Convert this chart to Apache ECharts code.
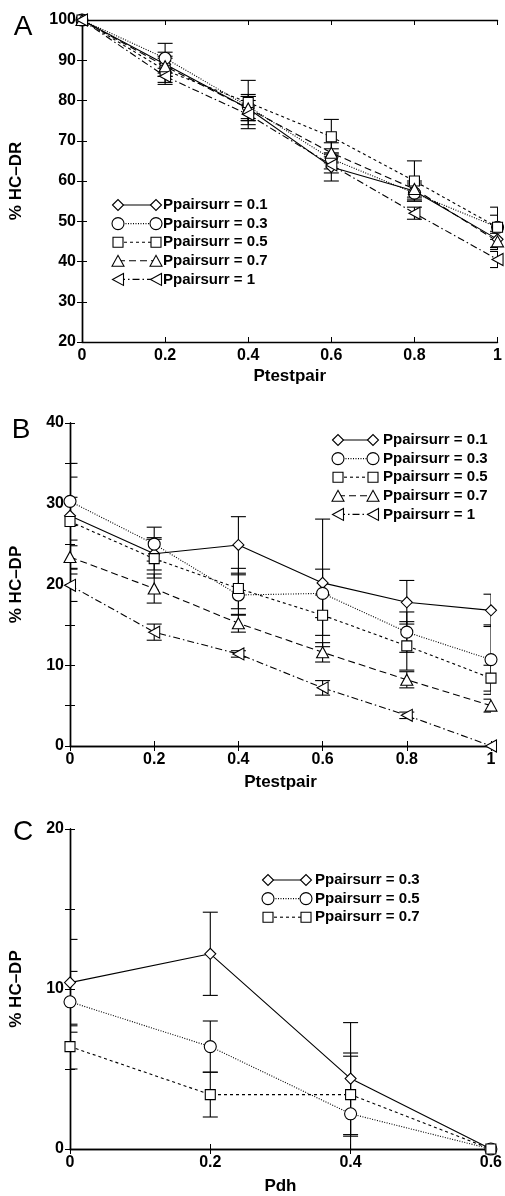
<!DOCTYPE html>
<html><head><meta charset="utf-8">
<script src="https://cdn.jsdelivr.net/npm/echarts@6/dist/echarts.min.js"></script>
<style>html,body{margin:0;padding:0;background:#fff}#c{width:505px;height:1196px}</style>
</head><body><div id="c"></div>
<script>
// ---------- DATA ----------
const xTestpair = [0, 0.2, 0.4, 0.6, 0.8, 1];
const xPdh = [0, 0.2, 0.4, 0.6];
const namesAB = ['Ppairsurr = 0.1', 'Ppairsurr = 0.3', 'Ppairsurr = 0.5', 'Ppairsurr = 0.7', 'Ppairsurr = 1'];
const namesC = ['Ppairsurr = 0.3', 'Ppairsurr = 0.5', 'Ppairsurr = 0.7'];

// Panel A: % HC-DR
const A_p01 = [100, 89, 78, 63.5, 57.5, 45.5];
const A_p01_err = [0, 3, 3, 3.5, 2, 2];
const A_p03 = [100, 90.5, 78.5, 65.5, 57, 48.5];
const A_p03_err = [0, 3.7, 3, 2.5, 2, 5];
const A_p05 = [100, 87.5, 79.5, 71, 60, 48.5];
const A_p05_err = [0, 3, 5.5, 4.3, 5, 3];
const A_p07 = [100, 88.5, 78, 67, 58, 45];
const A_p07_err = [0, 2.5, 3, 2.5, 2, 2];
const A_p1 = [100, 86, 76.5, 64, 52, 40.5];
const A_p1_err = [0, 2, 3.5, 2, 1.5, 2];

// Panel B: % HC-DP
const B_p01 = [28.5, 23.8, 24.9, 20.2, 17.8, 16.8];
const B_p01_err = [6.5, 2, 3.5, 7.9, 2.7, 2];
const B_p03 = [30.3, 25.0, 18.7, 18.9, 14.1, 10.7];
const B_p03_err = [3, 2.1, 2.5, 3, 2.5, 4.3];
const B_p05 = [27.8, 23.2, 19.5, 16.2, 12.4, 8.4];
const B_p05_err = [3, 2.4, 2.5, 2.5, 3, 1.6];
const B_p07 = [23.4, 19.5, 15.2, 11.6, 8.2, 5.0];
const B_p07_err = [2.1, 1.8, 1.1, 1.2, 1, 0.8];
const B_p1 = [19.9, 14.1, 11.4, 7.2, 3.8, 0];
const B_p1_err = [2, 1, 0.4, 0.9, 0.4, 0];

// Panel C: % HC-DP vs Pdh
const C_p03 = [10.4, 12.2, 4.4, 0];
const C_p03_err = [2.7, 2.6, 3.5, 0];
const C_p05 = [9.2, 6.4, 2.2, 0];
const C_p05_err = [1.9, 1.6, 3.6, 0];
const C_p07 = [6.4, 3.4, 3.4, 0];
const C_p07_err = [1.4, 1.4, 2.6, 0];

// ---------- STYLE ----------
const FONT = '"Liberation Sans", Arial, Helvetica, sans-serif';
const STY = [
  {symbol: 'path://M0,5L5,0L10,5L5,10Z', size: 11, dash: 'solid', kind: 'diamond'},
  {symbol: 'circle', size: 12, dash: [1, 1.5], kind: 'circle'},
  {symbol: 'rect', size: 10, dash: [3, 3], kind: 'rect'},
  {symbol: 'triangle', size: [12, 11], dash: [7, 4], kind: 'tri'},
  {symbol: 'path://M0,5L10,0L10,10Z', size: [11, 12], dash: [7, 3, 1.5, 3], kind: 'ltri'}
];

const chart = echarts.init(document.getElementById('c'), null, {renderer: 'canvas'});

const grids = [
  {left: 78, right: 6, top: 20, height: 322},
  {left: 70, right: 14, top: 423, height: 323},
  {left: 70, right: 14, top: 829, height: 322}
];

const lblStyle = {color: '#000', fontWeight: 'bold', fontSize: 16, fontFamily: FONT};
const nameStyle = {color: '#000', fontWeight: 'bold', fontSize: 17, fontFamily: FONT};
const axLine = {show: true, lineStyle: {color: '#000', width: 1.4}};
const tick = {show: true, inside: true, length: 5, lineStyle: {color: '#000', width: 1}};

function xAxes(gi, max, name, gap) {
  return [
    {type: 'value', gridIndex: gi, min: 0, max: max, interval: 0.2, position: 'bottom',
     axisLine: axLine, axisTick: tick, splitLine: {show: false},
     axisLabel: Object.assign({margin: 6}, lblStyle),
     name: name, nameLocation: 'middle', nameGap: gap, nameTextStyle: nameStyle},
    {type: 'value', gridIndex: gi, min: 0, max: max, interval: 0.2, position: 'top',
     axisLine: axLine, axisTick: tick, splitLine: {show: false}, axisLabel: {show: false}}
  ];
}
function yAxes(gi, min, max, interval, labelEvery, name, gap) {
  return [
    {type: 'value', gridIndex: gi, min: min, max: max, interval: interval, position: 'left',
     axisLine: axLine, axisTick: tick, splitLine: {show: false},
     axisLabel: Object.assign({margin: 6, formatter: v => (Math.abs(v % labelEvery) < 1e-9 ? String(v) : '')}, lblStyle),
     name: name, nameLocation: 'middle', nameGap: gap, nameRotate: 90, nameTextStyle: nameStyle},
    {type: 'value', gridIndex: gi, min: min, max: max, interval: interval, position: 'right',
     axisLine: axLine, axisTick: tick, splitLine: {show: false}, axisLabel: {show: false}}
  ];
}

const xAxis = [].concat(xAxes(0, 1, 'Ptestpair', 26), xAxes(1, 1, 'Ptestpair', 28), xAxes(2, 0.6, 'Pdh', 29));
const yAxis = [].concat(yAxes(0, 20, 100, 10, 10, '% HC\u2013DR', 57), yAxes(1, 0, 40, 5, 10, '% HC\u2013DP', 45), yAxes(2, 0, 20, 5, 10, '% HC\u2013DP', 45));

function errRender(params, api) {
  const x = api.value(0), lo = api.value(1), hi = api.value(2);
  if (hi - lo < 1e-9) return null;
  const pLo = api.coord([x, lo]), pHi = api.coord([x, hi]);
  const w = 7.5;
  const st = {stroke: '#000', lineWidth: 1.1};
  return {type: 'group', children: [
    {type: 'line', shape: {x1: pHi[0], y1: pHi[1], x2: pLo[0], y2: pLo[1]}, style: st},
    {type: 'line', shape: {x1: pHi[0] - w, y1: pHi[1], x2: pHi[0] + w, y2: pHi[1]}, style: st},
    {type: 'line', shape: {x1: pLo[0] - w, y1: pLo[1], x2: pLo[0] + w, y2: pLo[1]}, style: st}
  ]};
}

const series = [];
function addPanel(gi, xs, vals, errs, names) {
  vals.forEach((v, i) => {
    const s = STY[i];
    series.push({
      type: 'custom', name: names[i] + ' err', xAxisIndex: gi * 2, yAxisIndex: gi * 2, z: 1,
      clip: true, renderItem: errRender,
      data: xs.map((x, k) => [x, v[k] - errs[i][k], v[k] + errs[i][k]])
    });
    series.push({
      type: 'line', name: names[i], xAxisIndex: gi * 2, yAxisIndex: gi * 2, z: 3,
      data: xs.map((x, k) => [x, v[k]]),
      symbol: s.symbol, symbolSize: s.size, showAllSymbol: true,
      lineStyle: {color: '#000', width: 1.1, type: s.dash},
      itemStyle: {color: '#fff', borderColor: '#000', borderWidth: 1.1},
      emphasis: {disabled: true}, animation: false
    });
  });
}
addPanel(0, xTestpair, [A_p01, A_p03, A_p05, A_p07, A_p1], [A_p01_err, A_p03_err, A_p05_err, A_p07_err, A_p1_err], namesAB);
addPanel(1, xTestpair, [B_p01, B_p03, B_p05, B_p07, B_p1], [B_p01_err, B_p03_err, B_p05_err, B_p07_err, B_p1_err], namesAB);
addPanel(2, xPdh, [C_p03, C_p05, C_p07], [C_p03_err, C_p05_err, C_p07_err], namesC);

// ---------- custom legends ----------
function markerShape(kind, cx, cy) {
  const st = {fill: '#fff', stroke: '#000', lineWidth: 1.1};
  switch (kind) {
    case 'diamond': return {type: 'polygon', shape: {points: [[cx - 5.5, cy], [cx, cy - 5.5], [cx + 5.5, cy], [cx, cy + 5.5]]}, style: st, z: 10};
    case 'circle': return {type: 'circle', shape: {cx: cx, cy: cy, r: 6}, style: st, z: 10};
    case 'rect': return {type: 'rect', shape: {x: cx - 5, y: cy - 5, width: 10, height: 10}, style: st, z: 10};
    case 'tri': return {type: 'polygon', shape: {points: [[cx - 6, cy + 5.5], [cx, cy - 5.5], [cx + 6, cy + 5.5]]}, style: st, z: 10};
    default: return {type: 'polygon', shape: {points: [[cx - 5.5, cy], [cx + 5.5, cy - 6], [cx + 5.5, cy + 6]]}, style: st, z: 10};
  }
}
const graphic = [];
function legend(names, x1, x2, tx, y0, dy) {
  names.forEach((n, i) => {
    const y = y0 + i * dy, s = STY[i];
    graphic.push({type: 'line', shape: {x1: x1, y1: y, x2: x2, y2: y}, style: {stroke: '#000', lineWidth: 1.1, lineDash: s.dash === 'solid' ? null : s.dash}, z: 9});
    graphic.push(markerShape(s.kind, x1, y));
    graphic.push(markerShape(s.kind, x2, y));
    graphic.push({type: 'text', x: tx, y: y, z: 10, style: {text: n, font: 'bold 15px ' + FONT, fill: '#000', verticalAlign: 'middle', align: 'left'}});
  });
}
legend(namesAB, 118, 156, 163, 205, 18.6);
legend(namesAB, 338, 373, 383, 440, 18.6);
legend(namesC, 268, 306, 315, 880, 18.6);

[['A', 23, 27], ['B', 21, 430], ['C', 23, 832]].forEach(([t, x, y]) => {
  graphic.push({type: 'text', x: x, y: y, z: 10, style: {text: t, font: '28px ' + FONT, fill: '#000', align: 'center', verticalAlign: 'middle'}});
});

chart.setOption({
  animation: false,
  backgroundColor: '#fff',
  grid: grids,
  xAxis: xAxis,
  yAxis: yAxis,
  series: series,
  graphic: graphic
});
</script></body></html>
